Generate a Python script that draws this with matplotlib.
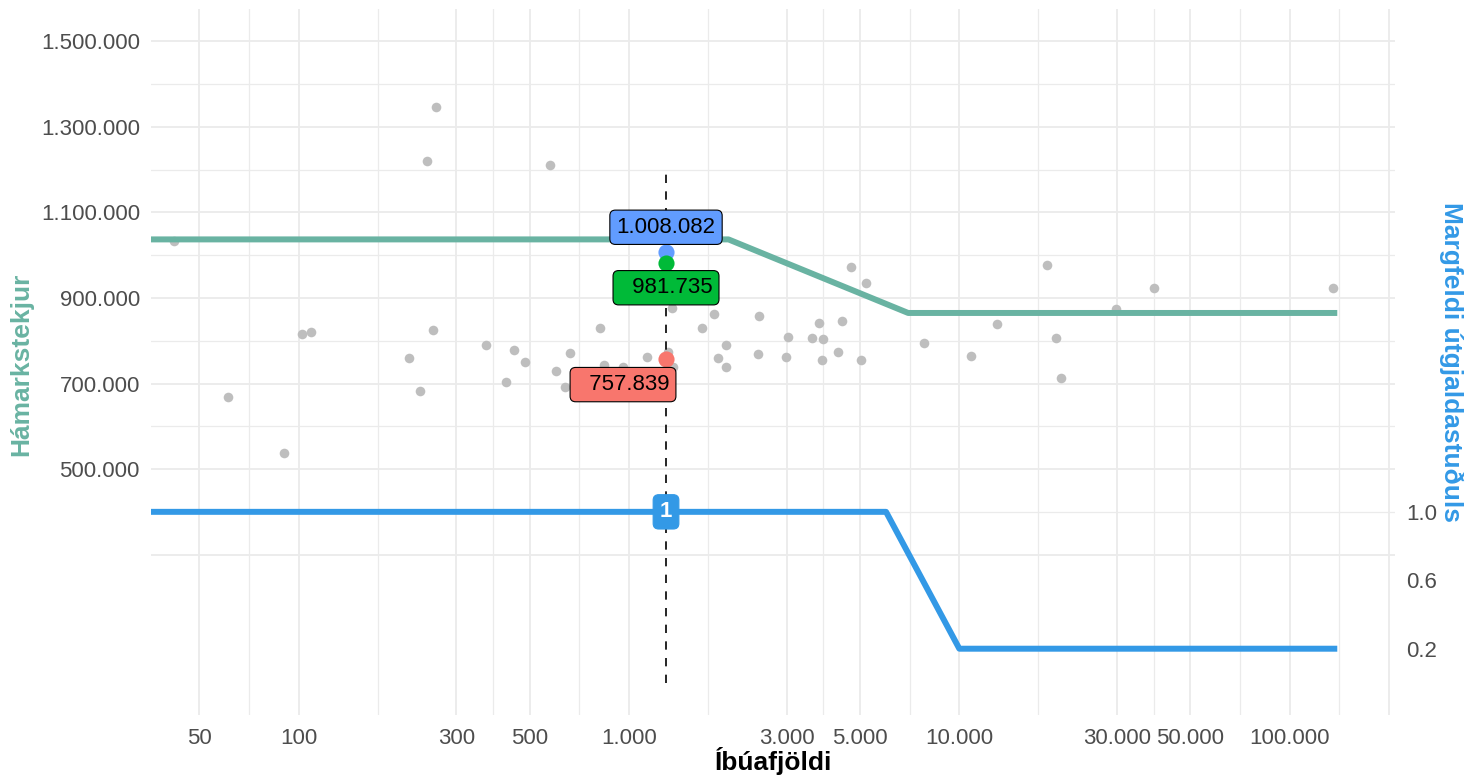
import matplotlib
matplotlib.use("Agg")
import matplotlib.pyplot as plt
from matplotlib.ticker import FixedLocator, NullFormatter

plt.rcParams['font.family'] = ['Liberation Sans', 'DejaVu Sans']

# ---------------- data ----------------
pop = [42, 61, 90, 102, 109, 215, 233, 255, 244, 261, 577, 369, 449, 483, 424,
       601, 664, 819, 840, 957, 640, 1131, 1350, 1356, 1315, 1667, 1813, 1967,
       1860, 1971, 2480, 2458, 3036, 2981, 3748, 3581, 3858, 3832, 4406, 4283,
       5047, 4710, 5208, 7818, 10812, 12960, 18430, 19630, 20370, 29750, 38870,
       135050]
income = [1033300, 668700, 538700, 816400, 821000, 759000, 682700, 825000,
          1220000, 1345900, 1210600, 790000, 777600, 749600, 704400, 729300,
          771300, 829700, 742600, 738000, 692700, 762000, 877500, 739800,
          773000, 829200, 861600, 790700, 759000, 737500, 857600, 769000,
          808000, 761500, 841300, 807000, 803300, 755000, 847100, 773000,
          754300, 972400, 934600, 794000, 763600, 839500, 977300, 806300,
          712300, 874000, 924100, 923700]

max_x = [1, 2000, 7000, 139400]
max_y = [1037000, 1037000, 865000, 865000]

mult_x = [1, 6000, 10000, 139400]
mult_y = [1.0, 1.0, 0.2, 0.2]
mult_scale = 400000

sel_pop = 1294
sel_vals = [1008082, 981735, 757839]
sel_texts = ["1.008.082", "  981.735", "  757.839"]
sel_colors = ["#619CFF", "#00BA38", "#F8766D"]
sel_offsets = [(0, 24.5), (0, -24.7), (-43, -25.8)]
sel_mult = 1.0

vline_y = [0, 1200000]

x_major = [50, 100, 300, 500, 1000, 3000, 5000, 10000, 30000, 50000, 100000, 200000]
x_labels = ["50", "100", "300", "500", "1.000", "3.000", "5.000", "10.000",
            "30.000", "50.000", "100.000", ""]
x_minor = [70.7, 173.2, 387.3, 707.1, 1732, 3873, 7071, 17321, 38730, 70711, 141421]
y_major = [300000, 500000, 700000, 900000, 1100000, 1300000, 1500000]
y_labels = ["", "500.000", "700.000", "900.000", "1.100.000", "1.300.000", "1.500.000"]
y_minor = [400000, 600000, 800000, 1000000, 1200000, 1400000]
r_ticks = [0.2, 0.6, 1.0]
r_labels = ["0.2", "0.6", "1.0"]

green = "#69b3a2"
blue = "#3399E6"
grid_c = "#EBEBEB"
tick_c = "#4D4D4D"

W, H = 1478, 778
fig = plt.figure(figsize=(W / 100, H / 100), dpi=100)
ax = fig.add_axes([151 / W, 1 - 715 / H, (1395.5 - 151) / W, (715 - 9.3) / H])

ax.set_xscale('log')
ax.set_xlim(35.7, 209200)
ax.set_ylim(-75000, 1575000)

ax.xaxis.set_major_locator(FixedLocator(x_major))
ax.xaxis.set_minor_locator(FixedLocator(x_minor))
ax.xaxis.set_minor_formatter(NullFormatter())
ax.set_xticklabels(x_labels)
ax.yaxis.set_major_locator(FixedLocator(y_major))
ax.yaxis.set_minor_locator(FixedLocator(y_minor))
ax.set_yticklabels(y_labels)

ax.grid(True, which='major', color=grid_c, linewidth=1.3)
ax.grid(True, which='minor', color=grid_c, linewidth=0.9)
ax.set_axisbelow(True)
for s in ax.spines.values():
    s.set_visible(False)
ax.tick_params(which='both', length=0)
ax.tick_params(axis='x', labelsize=16, labelcolor=tick_c, pad=9)
ax.tick_params(axis='y', labelsize=16, labelcolor=tick_c, pad=8)

# gray points
ax.scatter(pop, income, s=48, color="#BEBEBE", linewidths=0, zorder=2)

# lines
ax.plot(max_x, max_y, color=green, linewidth=4.3, solid_capstyle='butt',
        solid_joinstyle='round', zorder=3)
ax.plot(mult_x, [v * mult_scale for v in mult_y], color=blue, linewidth=4.3,
        solid_capstyle='butt', solid_joinstyle='round', zorder=3)

# dashed vertical line
ax.plot([sel_pop, sel_pop], vline_y, color='black', linewidth=1.2,
        linestyle=(0, (5, 5)), zorder=4)

# highlighted points and labels
for v, t, c, off in zip(sel_vals, sel_texts, sel_colors, sel_offsets):
    ax.scatter([sel_pop], [v], s=135, color=c, linewidths=0, zorder=5)
for v, t, c, off in zip(sel_vals, sel_texts, sel_colors, sel_offsets):
    ax.annotate(t, xy=(sel_pop, v), xytext=off, textcoords='offset pixels',
                ha='center', va='center', fontsize=16, color='black', zorder=6,
                bbox=dict(boxstyle='round,pad=0.3,rounding_size=0.25',
                          facecolor=c, edgecolor='black', linewidth=0.8))

ax.annotate("1", xy=(sel_pop, sel_mult * mult_scale), ha='center', va='center',
            fontsize=16, fontweight='bold', color='white', zorder=6,
            bbox=dict(boxstyle='round,pad=0.3,rounding_size=0.25',
                      facecolor=blue, edgecolor=blue, linewidth=0.8))

# secondary axis
sec = ax.secondary_yaxis('right', functions=(lambda y: y / mult_scale,
                                             lambda v: v * mult_scale))
sec.set_yticks(r_ticks)
sec.set_yticklabels(r_labels)
sec.tick_params(length=0, labelsize=16, labelcolor=tick_c, pad=8)
for s in sec.spines.values():
    s.set_visible(False)

# titles
fig.text(773 / W, 1 - 770 / H, "Íbúafjöldi", ha='center', va='baseline',
         fontsize=19, fontweight='bold', color='black')
fig.text(21 / W, 1 - 364 / H, "Hámarkstekjur", ha='center', va='center',
         rotation=90, fontsize=19, fontweight='bold', color=green)
fig.text(1451 / W, 1 - 362 / H, "Margfeldi útgjaldastuðuls", ha='center',
         va='center', rotation=-90, fontsize=19, fontweight='bold', color=blue)

fig.savefig("out.png", dpi=100, facecolor='white')
